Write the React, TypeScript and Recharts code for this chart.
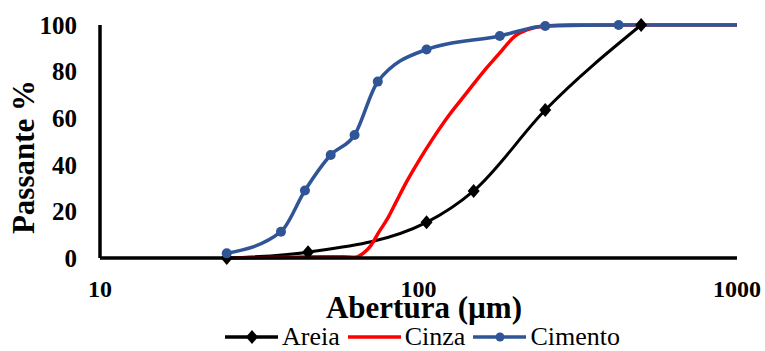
import React from 'react';
import { LineChart, Line, XAxis, YAxis, Legend, Label } from 'recharts';

// sieve openings (µm) and % passing
const areiaX = [25, 45, 106, 149, 250, 500];
const areiaY = [0, 2.5, 15.3, 28.8, 63.5, 100];

const cinzaX = [25, 35, 50, 58, 63, 67, 71, 75, 80, 85, 92, 100, 110, 125, 140, 160, 180, 200, 220, 250, 300, 500, 1000];
const cinzaY = [0, 0.2, 0.5, 0.5, 0.3, 2, 5.5, 11, 17, 24, 33, 41.5, 50.5, 61.5, 70, 80, 88, 95, 98, 99.6, 100, 100, 100];

const cimentoX = [25, 37, 44, 53, 63, 74.5, 106, 180, 250, 425, 1000];
const cimentoY = [2, 11.3, 29, 44.2, 52.8, 75.7, 89.5, 95.3, 99.6, 100, 100];

const xTicks = [10, 100, 1000];
const yTicks = [0, 20, 40, 60, 80, 100];

const seriesNames = ['Areia', 'Cinza', 'Cimento'];
const seriesColors = ['#000000', '#FF0000', '#2F5597'];

const toRows = (xs: number[], ys: number[]) => xs.map((x, i) => ({ x, y: ys[i] }));

const areia = toRows(areiaX, areiaY);
const cinza = toRows(cinzaX, cinzaY);
const cimento = toRows(cimentoX, cimentoY);

const FONT = 'Liberation Serif, serif';

const Diamond = (props: any) => {
  const { cx, cy, index } = props;
  if (cx == null || cy == null) return <g key={`d-${index}`} />;
  return <path key={`d-${index}`} d={`M${cx},${cy - 7}L${cx + 6},${cy}L${cx},${cy + 7}L${cx - 6},${cy}Z`} fill="#000" />;
};

const Circle = (props: any) => {
  const { cx, cy, index } = props;
  // last point only carries the line to 1000, no marker in the original
  if (cx == null || cy == null || index === cimento.length - 1) return <g key={`c-${index}`} />;
  return <circle key={`c-${index}`} cx={cx} cy={cy} r={5} fill={seriesColors[2]} />;
};

const LegendIcon = ({ i }: { i: number }) => (
  <svg width={53} height={16} style={{ display: 'block' }}>
    <line x1={0} y1={8} x2={53} y2={8} stroke={seriesColors[i]} strokeWidth={3.5} />
    {i === 0 && <path d="M27,1L33,8L27,15L21,8Z" fill="#000" />}
    {i === 2 && <circle cx={27} cy={8} r={4.5} fill={seriesColors[2]} />}
  </svg>
);

const CustomLegend = () => (
  <div style={{ display: 'flex', justifyContent: 'center', alignItems: 'center', height: 28, paddingLeft: 80, fontFamily: FONT, fontSize: 26, color: '#000' }}>
    {seriesNames.map((n, i) => (
      <div key={n} style={{ display: 'flex', alignItems: 'center', marginRight: i < 2 ? 8 : 0 }}>
        <LegendIcon i={i} />
        <span style={{ marginLeft: 4, lineHeight: '28px' }}>{n}</span>
      </div>
    ))}
  </div>
);

export default function App() {
  return (
    <div style={{ position: 'absolute', left: 0, top: 0, background: '#fff' }}>
      <LineChart width={765} height={351} margin={{ top: 25, right: 28, left: 0, bottom: 0 }}>
        <XAxis
          type="number"
          dataKey="x"
          scale="log"
          domain={[10, 1000]}
          ticks={xTicks}
          allowDataOverflow
          height={65}
          tickLine={false}
          tickMargin={16}
          axisLine={{ stroke: '#000', strokeWidth: 3.5 }}
          tick={{ fill: '#000', fontSize: 24, fontWeight: 'bold', fontFamily: FONT }}
        >
          <Label
            content={() => (
              <text x={424} y={318} textAnchor="middle" fontFamily={FONT} fontWeight="bold" fontSize={31} fill="#000">
                Abertura (µm)
              </text>
            )}
          />
        </XAxis>
        <YAxis
          type="number"
          domain={[0, 100]}
          ticks={yTicks}
          width={100}
          tickLine={false}
          tickMargin={17}
          axisLine={{ stroke: '#000', strokeWidth: 3.5 }}
          tick={{ fill: '#000', fontSize: 25, fontWeight: 'bold', fontFamily: FONT }}
        >
          <Label
            content={() => (
              <text x={34} y={157} transform="rotate(-90 34 157)" textAnchor="middle" fontFamily={FONT} fontWeight="bold" fontSize={31} fill="#000">
                Passante %
              </text>
            )}
          />
        </YAxis>
        <Legend verticalAlign="bottom" align="center" content={<CustomLegend />} wrapperStyle={{ left: 0, width: 765 }} />
        <Line data={areia} dataKey="y" name={seriesNames[0]} type="monotone" stroke={seriesColors[0]} strokeWidth={3} dot={Diamond} activeDot={false} isAnimationActive={false} />
        <Line data={cinza} dataKey="y" name={seriesNames[1]} type="monotone" stroke={seriesColors[1]} strokeWidth={3.5} dot={false} activeDot={false} isAnimationActive={false} />
        <Line data={cimento} dataKey="y" name={seriesNames[2]} type="monotone" stroke={seriesColors[2]} strokeWidth={3.5} dot={Circle} activeDot={false} isAnimationActive={false} />
      </LineChart>
    </div>
  );
}
